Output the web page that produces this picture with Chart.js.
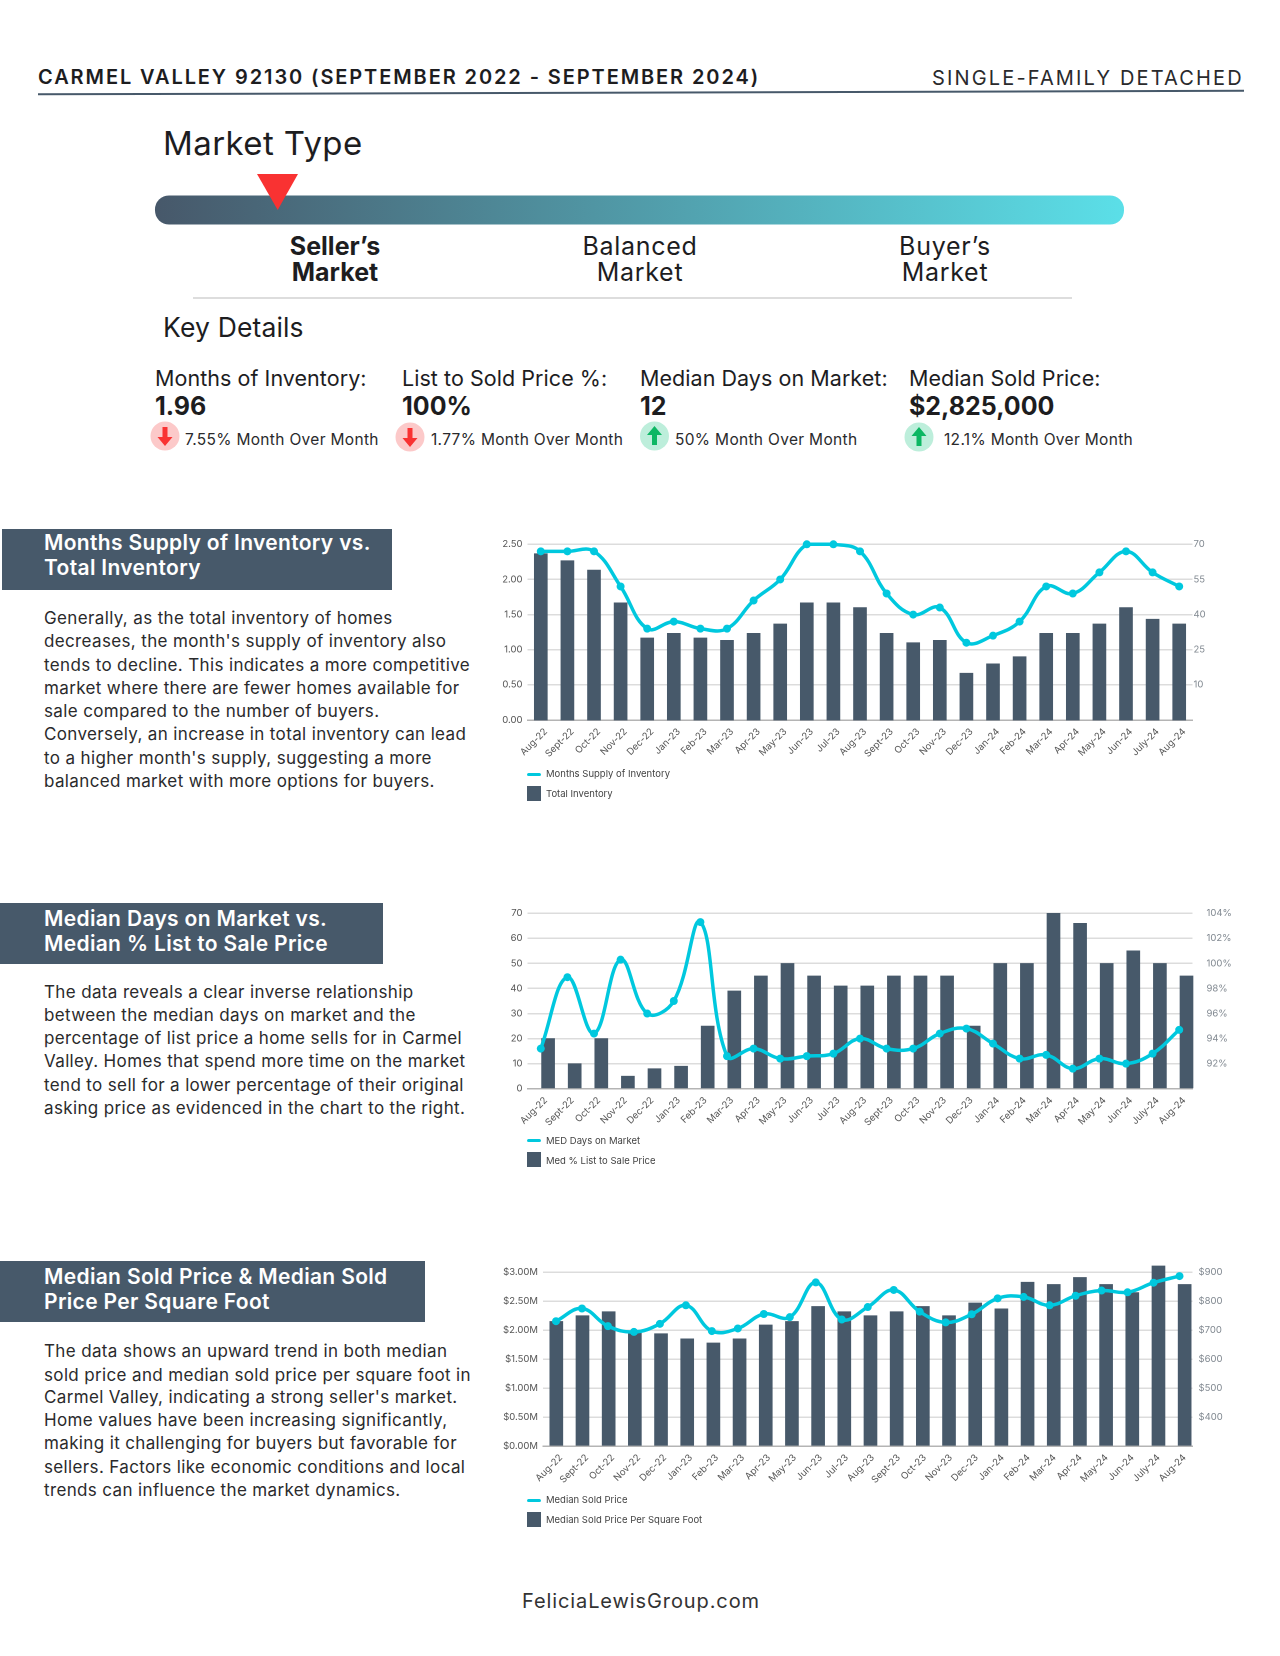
<!DOCTYPE html>
<html>
<head>
<meta charset="utf-8">
<title>Carmel Valley 92130</title>
<script src="https://cdn.jsdelivr.net/npm/chart.js@4"></script>
<style>
  html, body { margin: 0; padding: 0; background: #fff; }
  #page { position: relative; width: 1280px; height: 1656px; overflow: hidden; font-family: Inter, sans-serif; color: #1d1d1f; }
  .t { position: absolute; white-space: nowrap; transform: translateY(-50%); line-height: 1; }
  .c { transform: translate(-50%, -50%); text-align: center; }
  .box { position: absolute; background: #47596a; }
  .h { color: #fff; font-size: 21px; font-weight: 600; letter-spacing: 0.33px; }
  .p { font-size: 17px; letter-spacing: 0.36px; color: #2a2a2c; left: 44px; }
  .m1 { font-size: 21.5px; letter-spacing: 0.05px; top: 379px; }
  .m2 { font-size: 25px; font-weight: 700; top: 406px; }
  .m3 { font-size: 15.5px; letter-spacing: 0.32px; top: 439.5px; color: #2a2a2c; }
  .lg { font-size: 9.5px; color: #444; }
  canvas { position: absolute; }
  svg { position: absolute; left: 0; top: 0; }
</style>
</head>
<body>
<div id="page">
  <svg width="1280" height="480">
    <line x1="38" y1="94.3" x2="1244" y2="90.8" stroke="#47596a" stroke-width="2"/>
    <defs>
      <linearGradient id="bar"><stop offset="0" stop-color="#47586a"/><stop offset="1" stop-color="#5bdfe8"/></linearGradient>
    </defs>
    <rect x="155" y="195.500" width="969" height="29" rx="14" fill="url(#bar)"/>
    <polygon points="257,174 298,174 277.700,210" fill="#f93232"/>
    <line x1="193" y1="298" x2="1072" y2="298" stroke="#dddddd" stroke-width="2"/>
    <circle cx="165" cy="436" r="14.5" fill="#fcc9c9"/>
    <path d="M162.500 427h5v10h5l-7.500 9l-7.500-9h5z" fill="#f93232"/>
    <circle cx="410" cy="437" r="14.5" fill="#fcc9c9"/>
    <path d="M407.500 428h5v10h5l-7.500 9l-7.500-9h5z" fill="#f93232"/>
    <circle cx="654.500" cy="436" r="14.5" fill="#bdeedb"/>
    <path d="M652 445h5v-10h5l-7.500-9l-7.500 9h5z" fill="#0cb763"/>
    <circle cx="919" cy="437" r="14.5" fill="#bdeedb"/>
    <path d="M916.500 446h5v-10h5l-7.500-9l-7.500 9h5z" fill="#0cb763"/>
  </svg>

  <div class="t" style="left:38px;top:76.500px;font-size:20px;font-weight:600;letter-spacing:1.9px">CARMEL VALLEY 92130 (SEPTEMBER 2022 - SEPTEMBER 2024)</div>
  <div class="t" style="left:932px;top:78px;font-size:20px;letter-spacing:2.15px;color:#2a2a2c">SINGLE-FAMILY DETACHED</div>
  <div class="t" style="left:163px;top:143px;font-size:33px;letter-spacing:0.4px">Market Type</div>

  <div class="t c" style="left:335px;top:245.500px;font-size:25px;font-weight:700">Seller’s</div>
  <div class="t c" style="left:335px;top:271.500px;font-size:25px;font-weight:700">Market</div>
  <div class="t c" style="left:640px;top:245.500px;font-size:25px;letter-spacing:0.7px">Balanced</div>
  <div class="t c" style="left:640px;top:271.500px;font-size:25px;letter-spacing:0.7px">Market</div>
  <div class="t c" style="left:945px;top:245.500px;font-size:25px;letter-spacing:0.7px">Buyer’s</div>
  <div class="t c" style="left:945px;top:271.500px;font-size:25px;letter-spacing:0.7px">Market</div>

  <div class="t" style="left:163px;top:327px;font-size:26.500px;letter-spacing:0.15px">Key Details</div>

  <div class="t m1" style="left:155px">Months of Inventory:</div>
  <div class="t m1" style="left:402px">List to Sold Price %:</div>
  <div class="t m1" style="left:640px">Median Days on Market:</div>
  <div class="t m1" style="left:909px">Median Sold Price:</div>
  <div class="t m2" style="left:155px">1.96</div>
  <div class="t m2" style="left:402px">100%</div>
  <div class="t m2" style="left:640px">12</div>
  <div class="t m2" style="left:909px">$2,825,000</div>
  <div class="t m3" style="left:185px">7.55% Month Over Month</div>
  <div class="t m3" style="left:431px">1.77% Month Over Month</div>
  <div class="t m3" style="left:675px">50% Month Over Month</div>
  <div class="t m3" style="left:944px">12.1% Month Over Month</div>

  <div class="box" style="left:2px;top:528.500px;width:390px;height:61px"></div>
  <div class="t h" style="left:44px;top:542px">Months Supply of Inventory vs.</div>
  <div class="t h" style="left:44px;top:567px">Total Inventory</div>
  <div class="t p" style="top:618px">Generally, as the total inventory of homes</div>
  <div class="t p" style="top:641px">decreases, the month's supply of inventory also</div>
  <div class="t p" style="top:664.500px">tends to decline. This indicates a more competitive</div>
  <div class="t p" style="top:688px">market where there are fewer homes available for</div>
  <div class="t p" style="top:711px">sale compared to the number of buyers.</div>
  <div class="t p" style="top:734px">Conversely, an increase in total inventory can lead</div>
  <div class="t p" style="top:757.500px">to a higher month's supply, suggesting a more</div>
  <div class="t p" style="top:781px">balanced market with more options for buyers.</div>

  <div class="box" style="left:0;top:903px;width:383px;height:61px"></div>
  <div class="t h" style="left:44px;top:918px">Median Days on Market vs.</div>
  <div class="t h" style="left:44px;top:943px">Median % List to Sale Price</div>
  <div class="t p" style="top:991.500px">The data reveals a clear inverse relationship</div>
  <div class="t p" style="top:1015px">between the median days on market and the</div>
  <div class="t p" style="top:1038px">percentage of list price a home sells for in Carmel</div>
  <div class="t p" style="top:1061px">Valley. Homes that spend more time on the market</div>
  <div class="t p" style="top:1085px">tend to sell for a lower percentage of their original</div>
  <div class="t p" style="top:1108px">asking price as evidenced in the chart to the right.</div>

  <div class="box" style="left:0;top:1260.500px;width:425px;height:61px"></div>
  <div class="t h" style="left:44px;top:1276px">Median Sold Price &amp; Median Sold</div>
  <div class="t h" style="left:44px;top:1301px">Price Per Square Foot</div>
  <div class="t p" style="top:1351px">The data shows an upward trend in both median</div>
  <div class="t p" style="top:1374.500px">sold price and median sold price per square foot in</div>
  <div class="t p" style="top:1397px">Carmel Valley, indicating a strong seller's market.</div>
  <div class="t p" style="top:1420px">Home values have been increasing significantly,</div>
  <div class="t p" style="top:1443px">making it challenging for buyers but favorable for</div>
  <div class="t p" style="top:1466.500px">sellers. Factors like economic conditions and local</div>
  <div class="t p" style="top:1490px">trends can influence the market dynamics.</div>

  <div class="t c" style="left:641px;top:1601px;font-size:20px;letter-spacing:0.9px;color:#333">FeliciaLewisGroup.com</div>

  <canvas id="chart1" style="left:480px;top:530px;width:780px;height:240px"></canvas>
  <canvas id="chart2" style="left:480px;top:900px;width:780px;height:240px"></canvas>
  <canvas id="chart3" style="left:480px;top:1258px;width:780px;height:240px"></canvas>
</div>

<script>
var months = ['Aug-22','Sept-22','Oct-22','Nov-22','Dec-22','Jan-23','Feb-23','Mar-23','Apr-23','May-23','Jun-23','Jul-23','Aug-23','Sept-23','Oct-23','Nov-23','Dec-23','Jan-24','Feb-24','Mar-24','Apr-24','May-24','Jun-24','July-24','Aug-24'];

var monthsSupply = [2.4,2.4,2.4,1.9,1.3,1.4,1.3,1.3,1.7,2.0,2.5,2.5,2.4,1.8,1.5,1.6,1.1,1.2,1.4,1.9,1.8,2.1,2.4,2.1,1.9];
var totalInventory = [66,63,59,45,30,32,30,29,32,36,45,45,43,32,28,29,15,19,22,32,32,36,43,38,36];

var daysOnMarket = [20,10,20,5,8,9,25,39,45,50,45,41,41,45,45,45,25,50,50,70,66,50,55,50,45];
var listToSale = [93.2,98.9,94.4,100.3,96.0,97.0,103.3,92.6,93.2,92.4,92.6,92.8,94.0,93.2,93.2,94.4,94.8,93.6,92.4,92.7,91.6,92.4,92.0,92.8,94.7];

var soldPrice = [2.15,2.25,2.32,1.95,1.94,1.85,1.78,1.85,2.09,2.15,2.41,2.32,2.25,2.32,2.41,2.25,2.47,2.37,2.83,2.79,2.91,2.79,2.65,3.11,2.79];
var pricePerFoot = [731,775,714,694,722,786,697,706,756,745,865,737,780,839,764,727,755,810,815,786,819,837,831,864,887];

var TEAL = '#00c8de';
var SLATE = '#47596a';

function makeChart(id, o) {
  var el = document.getElementById(id);
  var canvasLeft = 480, canvasTop = parseFloat(el.style.top);
  new Chart(el, {
    data: {
      labels: months,
      datasets: [
        {
          type: 'line', label: o.lineLabel, data: o.lineData, yAxisID: o.lineAxis, xAxisID: 'x',
          borderColor: TEAL, backgroundColor: TEAL, borderWidth: 3.5, tension: 0.4,
          pointRadius: 4, pointBackgroundColor: TEAL, pointBorderWidth: 0,
          clip: false, order: 0
        },
        {
          type: 'bar', label: o.barLabel,
          data: o.barData.map(function(v, i) { return { x: i, y: v }; }),
          yAxisID: o.barAxis, xAxisID: 'xb', base: o.barBase,
          backgroundColor: SLATE, barThickness: 13, clip: false, order: 1
        }
      ]
    },
    options: {
      responsive: false,
      animation: false,
      devicePixelRatio: 2,
      layout: { padding: { top: o.top - canvasTop, left: 0, right: 0, bottom: 0 } },
      plugins: { legend: { display: false }, tooltip: { enabled: false } },
      scales: {
        x: {
          type: 'category', offset: true,
          grid: { display: false },
          border: { color: '#b4b4b4', width: 1.5 },
          ticks: { color: '#555', font: { family: 'Inter', size: 9.5 }, maxRotation: 45, minRotation: 45, autoSkip: false, padding: -2, labelOffset: 5 },
          afterFit: function(s) { s.height = canvasTop + 240 - o.bottom; }
        },
        // bars sit on their own hidden axis, they are offset from the line in the original
        xb: {
          type: 'linear', axis: 'x', position: 'bottom', offset: false, min: o.barMin, max: o.barMax,
          grid: { display: false, drawTicks: false },
          border: { display: false },
          ticks: { display: false },
          afterFit: function(s) { s.height = 0; }
        },
        y: {
          position: 'left', min: o.yMin, max: o.yMax,
          grid: { color: '#dcdcdc', lineWidth: 1.5, drawTicks: false },
          border: { display: false },
          ticks: { stepSize: o.yStep, color: '#555', font: { family: 'Inter', size: 9.5 }, padding: 5, callback: o.yFmt },
          afterFit: function(s) { s.width = o.left - canvasLeft; s.paddingTop = 0; s.paddingBottom = 0; }
        },
        y2: {
          position: 'right', min: o.y2Min, max: o.y2Max,
          grid: { display: false, drawTicks: false },
          border: { display: false },
          ticks: { stepSize: o.y2Step, color: '#808890', font: { family: 'Inter', size: 9.5 }, padding: o.y2Pad, callback: o.y2Fmt },
          afterFit: function(s) { s.width = canvasLeft + 780 - 1192.5; s.paddingTop = 0; s.paddingBottom = 0; }
        }
      }
    }
  });

  var page = document.getElementById('page');
  var html = '<div style="position:absolute;left:527px;top:' + (o.legendY - 1.5) + 'px;width:14px;height:3px;border-radius:2px;background:' + TEAL + '"></div>' +
    '<div class="t lg" style="left:546px;top:' + o.legendY + 'px">' + o.lineLabel + '</div>' +
    '<div style="position:absolute;left:527px;top:' + (o.legendY + 11.5) + 'px;width:14px;height:15px;background:' + SLATE + '"></div>' +
    '<div class="t lg" style="left:546px;top:' + (o.legendY + 20) + 'px">' + o.barLabel + '</div>';
  page.insertAdjacentHTML('beforeend', html);
}

function hideBelow(limit, fmt) {
  return function(v) { return v <= limit ? '' : fmt(v); };
}

makeChart('chart1', {
  lineLabel: 'Months Supply of Inventory', barLabel: 'Total Inventory',
  lineData: monthsSupply, barData: totalInventory,
  lineAxis: 'y', barAxis: 'y2', barBase: -5,
  barMin: -0.256, barMax: 24.744,
  left: 527.5, top: 544.3, bottom: 720,
  yMin: 0, yMax: 2.5, yStep: 0.5, yFmt: function(v) { return v.toFixed(2); },
  y2Min: -5, y2Max: 70, y2Step: 15, y2Pad: 1, y2Fmt: hideBelow(-5, function(v) { return '' + v; }),
  legendY: 774
});

makeChart('chart2', {
  lineLabel: 'MED Days on Market', barLabel: 'Med % List to Sale Price',
  lineData: listToSale, barData: daysOnMarket,
  lineAxis: 'y2', barAxis: 'y', barBase: 0,
  barMin: -0.53, barMax: 24.47,
  left: 527.5, top: 913.3, bottom: 1088.7,
  yMin: 0, yMax: 70, yStep: 10, yFmt: function(v) { return '' + v; },
  y2Min: 90, y2Max: 104, y2Step: 2, y2Pad: 14, y2Fmt: hideBelow(90, function(v) { return v + '%'; }),
  legendY: 1140.7
});

makeChart('chart3', {
  lineLabel: 'Median Sold Price', barLabel: 'Median Sold Price Per Square Foot',
  lineData: pricePerFoot, barData: soldPrice,
  lineAxis: 'y2', barAxis: 'y', barBase: 0,
  barMin: -0.26, barMax: 24.548,
  left: 543, top: 1272.3, bottom: 1446,
  yMin: 0, yMax: 3, yStep: 0.5, yFmt: function(v) { return '$' + v.toFixed(2) + 'M'; },
  y2Min: 300, y2Max: 900, y2Step: 100, y2Pad: 6, y2Fmt: hideBelow(300, function(v) { return '$' + v; }),
  legendY: 1500
});
</script>
</body>
</html>
